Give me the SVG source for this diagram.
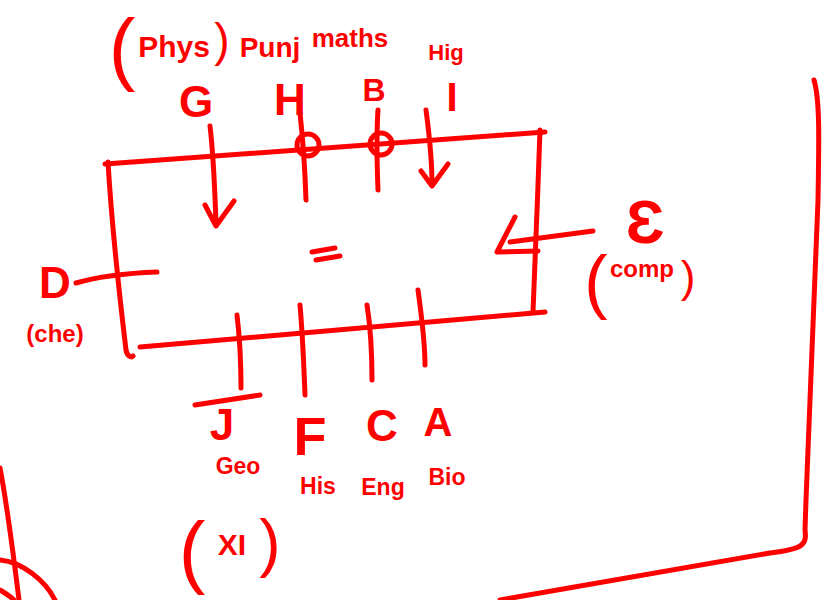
<svg xmlns="http://www.w3.org/2000/svg" width="826" height="600" viewBox="0 0 826 600">
<style>
.s{fill:none;stroke:#ff0000;stroke-width:5;stroke-linecap:round;stroke-linejoin:round}
.t{fill:#ff0000;font-family:"Liberation Sans",Arial,sans-serif;text-anchor:middle;font-weight:bold}
.b{font-size:44px}
.m{font-size:23px}
.n{font-weight:normal}
</style>
<rect width="826" height="600" fill="#ffffff"/>
<g id="frame">
<path class="s" d="M105,164 L545,132"/>
<path class="s" d="M108,162 C112,230 120,300 126,350 C127,356 131,358 133,356"/>
<path class="s" d="M140,347 L545,312"/>
<path class="s" d="M540,130 C538,190 535,260 533,312"/>
<path class="s" d="M312,252 L335,248 M316,260 L340,256"/>
<path class="s" d="M814,80 C820,100 819,140 818,200 L810,400 L806,500 L805,530 C807,545 803,549 770,553 L500,600"/>
<path class="s" d="M0,468 C8,510 14,560 19,600"/>
<path class="s" d="M0,560 C22,562 45,580 55,600"/>
<path class="s" d="M0,590 C5,593 10,596 14,600"/>
</g>
<g id="connectors">
<path class="s" d="M210,126 C214,160 215,195 216,224 M205,205 L216,226 L234,201"/>
<path class="s" d="M300,113 C303,140 305,170 306,200"/>
<circle class="s" cx="308" cy="145" r="11"/>
<path class="s" d="M378,110 C376,140 377,165 378,190"/>
<circle class="s" cx="381" cy="144" r="11"/>
<path class="s" d="M426,110 C430,140 432,160 432,185 M421,171 L432,186 L448,164"/>
<path class="s" d="M76,283 C100,276 130,273 157,272"/>
<path class="s" d="M515,217 L497,252 L538,251 M510,242 L593,231"/>
<path class="s" d="M237,315 C240,340 241,360 241,388 M195,405 L260,395"/>
<path class="s" d="M300,305 C303,340 304,370 305,395"/>
<path class="s" d="M367,305 C371,330 372,355 372,380"/>
<path class="s" d="M418,290 C422,320 425,340 425,365"/>
</g>
<g id="top-labels">
<text class="t n" x="122" y="75" font-size="80">(</text>
<text class="t" x="174" y="57" font-size="30">Phys</text>
<text class="t n" x="222" y="56" font-size="46">)</text>
<text class="t" x="270" y="57" font-size="28">Punj</text>
<text class="t" x="350" y="47" font-size="26">maths</text>
</g>
<g id="node-G"><text class="t b" x="196" y="117">G</text></g>
<g id="node-H"><text class="t b" x="290" y="115">H</text></g>
<g id="node-B"><text class="t" x="374" y="101" font-size="32">B</text></g>
<g id="node-I"><text class="t" x="446" y="60" font-size="22">Hig</text><text class="t" x="452" y="111" font-size="40">I</text></g>
<g id="node-D"><text class="t b" x="55" y="298">D</text><text class="t" x="55" y="342" font-size="24">(che)</text></g>
<g id="node-E"><text class="t" x="645" y="243" font-size="62">Ɛ</text><text class="t n" x="596" y="305" font-size="70">(</text><text class="t" x="642" y="277" font-size="24">comp</text><text class="t n" x="688" y="292" font-size="44">)</text></g>
<g id="node-J"><text class="t b" x="222" y="440">J</text><text class="t m" x="238" y="474">Geo</text></g>
<g id="node-F"><text class="t" x="310" y="455" font-size="54">F</text><text class="t m" x="318" y="494">His</text></g>
<g id="node-C"><text class="t b" x="382" y="441">C</text><text class="t m" x="383" y="495">Eng</text></g>
<g id="node-A"><text class="t" x="438" y="436" font-size="40">A</text><text class="t m" x="447" y="485">Bio</text></g>
<g id="class"><text class="t n" x="192" y="578" font-size="80">(</text><text class="t" x="232" y="555" font-size="30">XI</text><text class="t n" x="270" y="565" font-size="64">)</text></g>
</svg>
